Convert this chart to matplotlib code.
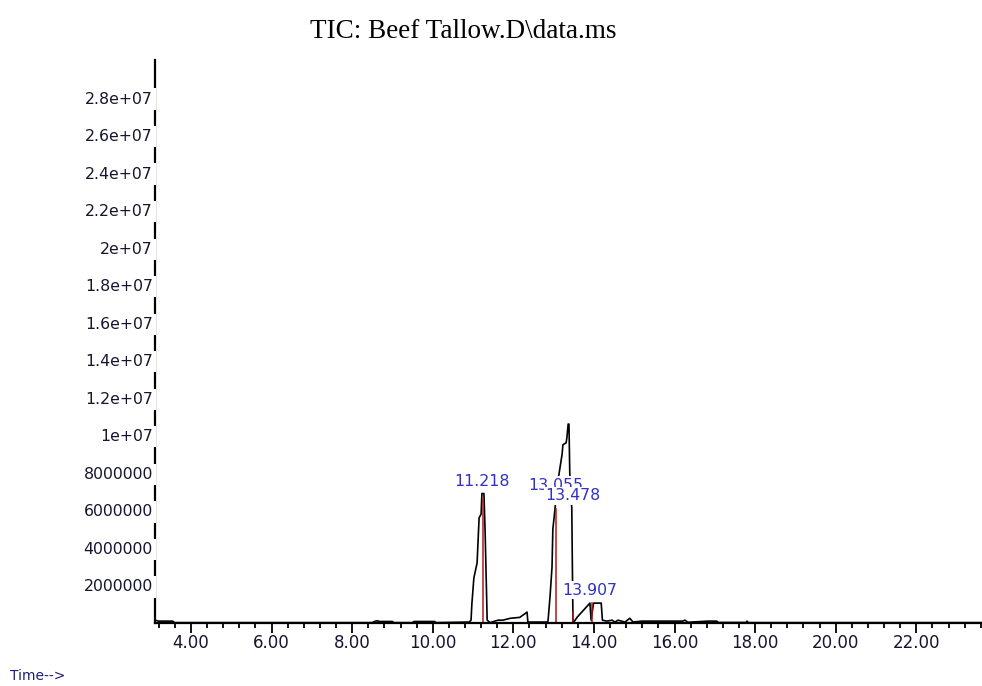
import matplotlib
matplotlib.use("Agg")
import matplotlib.pyplot as plt
from matplotlib.ticker import MultipleLocator, FormatStrFormatter

# total ion chromatogram
tic_time = [3.11, 3.20, 3.55, 3.58, 8.50, 8.55, 8.62, 8.68, 9.00, 9.03, 9.50, 9.53,
            10.05, 10.08, 10.90, 10.95, 10.97, 11.02, 11.10, 11.15, 11.20, 11.22,
            11.27, 11.30, 11.35, 11.42, 11.54, 11.62, 11.74, 11.92, 12.16, 12.29,
            12.34, 12.36, 12.83, 12.86, 12.91, 12.96, 12.98, 13.03, 13.10, 13.13,
            13.21, 13.23, 13.31, 13.33, 13.36, 13.38, 13.40, 13.45, 13.47, 13.48,
            13.50, 13.58, 13.90, 13.93, 13.99, 14.18, 14.21, 14.32, 14.45, 14.52,
            14.60, 14.77, 14.89, 14.97, 15.19, 16.20, 16.26, 16.33, 16.83, 17.05,
            17.08, 17.78, 17.80, 17.83, 23.63]
tic_abund = [0.15e6, 0.10e6, 0.10e6, 0.02e6, 0.02e6, 0.08e6, 0.12e6, 0.08e6, 0.08e6,
             0.02e6, 0.02e6, 0.08e6, 0.08e6, 0.02e6, 0.05e6, 0.15e6, 1.0e6, 2.4e6,
             3.2e6, 5.6e6, 5.8e6, 6.9e6, 6.9e6, 4.8e6, 0.15e6, 0.02e6, 0.10e6, 0.15e6,
             0.15e6, 0.25e6, 0.30e6, 0.50e6, 0.58e6, 0.05e6, 0.05e6, 0.10e6, 1.4e6,
             3.0e6, 5.0e6, 6.0e6, 7.6e6, 7.9e6, 9.0e6, 9.5e6, 9.6e6, 9.9e6, 10.6e6,
             10.6e6, 8.0e6, 6.1e6, 1.9e6, 0.05e6, 0.05e6, 0.30e6, 1.06e6, 0.15e6,
             1.06e6, 1.06e6, 0.15e6, 0.10e6, 0.15e6, 0.05e6, 0.15e6, 0.05e6, 0.25e6,
             0.05e6, 0.10e6, 0.10e6, 0.15e6, 0.04e6, 0.10e6, 0.10e6, 0.03e6, 0.03e6,
             0.10e6, 0.02e6, 0.02e6]

# integration baselines / peak markers (red)
base_time = [[10.97, 11.25, 11.25],
             [12.86, 13.06, 13.06],
             [13.47, 13.47, 13.95, 13.95]]
base_abund = [[0.02e6, 0.02e6, 6.6e6],
              [0.02e6, 0.02e6, 6.1e6],
              [0.6e6, 0.02e6, 0.02e6, 1.06e6]]

peak_rt = [11.218, 13.055, 13.478, 13.907]
peak_abund = [6.9e6, 6.7e6, 6.15e6, 1.1e6]
peak_labels = ["11.218", "13.055", "13.478", "13.907"]

y_ticks = [2e6 * k for k in range(1, 15)]
X0, X1 = 3.107, 23.63

fig = plt.figure(figsize=(9.82, 6.86), dpi=100)
ax = fig.add_axes([155 / 982, 63 / 686, 827 / 982, 563 / 686])

ax.plot(tic_time, tic_abund, color="black", lw=1.2, zorder=2)
for bt, ba in zip(base_time, base_abund):
    ax.plot(bt, ba, color="#b01818", lw=1.1, zorder=2.2)

# labels carry white boxes: later ones hide earlier ones, as in the original
for rt, ab, lab in zip(peak_rt, peak_abund, peak_labels):
    ax.annotate(lab, (rt, ab), xytext=(0, 8.6), textcoords="offset points",
                ha="center", va="center", fontsize=11.3, color="#3131c4",
                bbox=dict(facecolor="white", edgecolor="none",
                          boxstyle="square,pad=0.1"), zorder=4)

ax.set_xlim(X0, X1)
ax.set_ylim(0, 3.0e7)

for side in ("top", "right", "left"):
    ax.spines[side].set_visible(False)
ax.spines["bottom"].set_linewidth(1.6)
# y axis line drawn under the tick labels, whose white boxes break it up
ax.axvline(X0, color="black", lw=1.6, zorder=1, clip_on=False)

ax.xaxis.set_major_locator(MultipleLocator(2))
ax.xaxis.set_minor_locator(MultipleLocator(0.4))
ax.xaxis.set_major_formatter(FormatStrFormatter("%.2f"))
ax.tick_params(axis="x", which="major", direction="out", length=7, width=1.3,
               pad=0.8, labelsize=12, labelcolor="#151530")
ax.tick_params(axis="x", which="minor", direction="out", length=3.6, width=1.3)

ax.set_yticks(y_ticks)
ax.yaxis.set_major_formatter(FormatStrFormatter("%.7g"))
ax.tick_params(axis="y", length=0, pad=1.5, labelsize=11.3, labelcolor="#151530")
for lab in ax.get_yticklabels():
    lab.set_bbox(dict(facecolor="white", edgecolor="none", boxstyle="square,pad=0.2"))

fig.text(463 / 982, 1 - 31 / 686, "TIC: Beef Tallow.D\\data.ms", ha="center",
         va="center", fontsize=19.5, family="Liberation Serif", color="black")
fig.text(10 / 982, 1 - 676 / 686, "Time-->", ha="left", va="center",
         fontsize=10, color="#20207a")

fig.savefig("out.png", dpi=100)
plt.close(fig)
